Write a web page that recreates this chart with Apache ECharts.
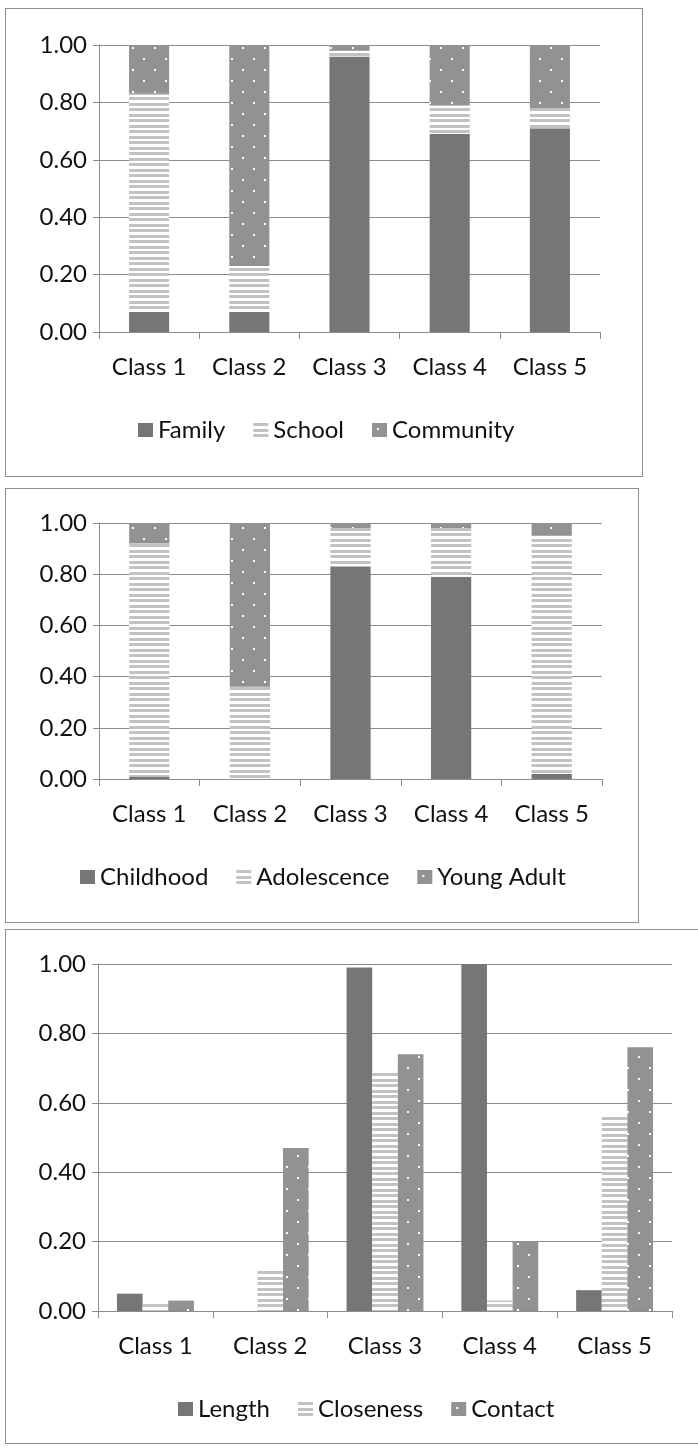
<!DOCTYPE html>
<html>
<head>
<meta charset="utf-8">
<script src="https://cdn.jsdelivr.net/npm/echarts@6/dist/echarts.min.js"></script>
<style>
  html, body { margin: 0; padding: 0; background: #fff; }
  body { width: 698px; height: 1450px; position: relative; overflow: hidden; }
  .frame { position: absolute; border: 1px solid #8f8f8f; background: #fff; }
  .frame > div { position: absolute; left: 0; top: 0; width: 100%; height: 100%; }
</style>
</head>
<body>
<div class="frame" style="left:5px;top:8px;width:636px;height:467px;"><div id="c1"></div></div>
<div class="frame" style="left:5px;top:488px;width:632px;height:433px;"><div id="c2"></div></div>
<div class="frame" style="left:5px;top:929px;width:720px;height:513px;"><div id="c3"></div></div>
<script>
// Shared categories and value-axis settings
const classes = ['Class 1', 'Class 2', 'Class 3', 'Class 4', 'Class 5'];
const yMin = 0, yMax = 1, yStep = 0.2;

// Setting: share of each class by context
const family    = [0.07, 0.07, 0.96, 0.69, 0.71];
const school    = [0.76, 0.16, 0.02, 0.10, 0.07];
const community = [0.17, 0.77, 0.02, 0.21, 0.22];

// Life stage: share of each class by period
const childhood   = [0.01, 0.00, 0.83, 0.79, 0.02];
const adolescence = [0.91, 0.36, 0.15, 0.19, 0.93];
const youngAdult  = [0.08, 0.64, 0.02, 0.02, 0.05];

// Relationship features by class
const lengthVals    = [0.05, 0.00, 0.99, 1.00, 0.06];
const closenessVals = [0.02, 0.12, 0.69, 0.03, 0.56];
const contactVals   = [0.03, 0.47, 0.74, 0.20, 0.76];

const FONT = 'Lato, "Open Sans", sans-serif';
const DARK = '#767676';

// Horizontal light-grey stripes on white
function stripeFill() {
  const c = document.createElement('canvas');
  c.width = 8; c.height = 11;
  const g = c.getContext('2d');
  g.fillStyle = '#ffffff'; g.fillRect(0, 0, 8, 11);
  g.fillStyle = '#c2c2c2';
  g.fillRect(0, 0, 8, 3);
  g.fillRect(0, 6, 8, 3);
  return { image: c, repeat: 'repeat' };
}
// Mid-grey with a diagonal lattice of small white dots
function dotFill() {
  const c = document.createElement('canvas');
  c.width = 22; c.height = 22;
  const g = c.getContext('2d');
  g.fillStyle = '#929292'; g.fillRect(0, 0, 22, 22);
  g.fillStyle = '#ffffff';
  g.fillRect(5, 5, 2, 2);
  g.fillRect(16, 16, 2, 2);
  return { image: c, repeat: 'repeat' };
}

const fills = [DARK, stripeFill(), dotFill()];

function baseOption(grid, legendPos, names) {
  return {
    animation: false,
    textStyle: { fontFamily: FONT },
    grid: Object.assign({ containLabel: false }, grid),
    legend: {
      data: names,
      left: legendPos.left,
      top: legendPos.top,
      icon: 'rect',
      itemWidth: 15,
      itemHeight: 14,
      itemGap: 28,
      selectedMode: false,
      textStyle: { fontFamily: FONT, fontSize: 24, color: '#111', lineHeight: 24 }
    },
    xAxis: {
      type: 'category',
      data: classes,
      axisLine: { lineStyle: { color: '#8c8c8c', width: 1 } },
      axisTick: { show: true, length: 7, lineStyle: { color: '#8c8c8c' } },
      axisLabel: { fontFamily: FONT, fontSize: 24, color: '#111', margin: 23, interval: 0 },
      splitLine: { show: false }
    },
    yAxis: {
      type: 'value',
      min: yMin, max: yMax, interval: yStep,
      axisLine: { show: true, lineStyle: { color: '#8c8c8c', width: 1 } },
      axisTick: { show: true, length: 6, lineStyle: { color: '#8c8c8c' } },
      axisLabel: { fontFamily: FONT, fontSize: 24, color: '#111', margin: 12,
                   formatter: v => v.toFixed(2) },
      splitLine: { show: true, lineStyle: { color: '#8c8c8c', width: 1 } }
    }
  };
}

function stacked(names, arrays) {
  return names.map((n, i) => ({
    name: n, type: 'bar', stack: 'total', data: arrays[i],
    barCategoryGap: '60%',
    itemStyle: { color: fills[i] },
    emphasis: { disabled: true }
  }));
}

// Chart 1
const n1 = ['Family', 'School', 'Community'];
const o1 = baseOption({ left: 93, top: 36, width: 501, height: 287 }, { left: 127, top: 404 }, n1);
o1.series = stacked(n1, [family, school, community]);
echarts.init(document.getElementById('c1')).setOption(o1);

// Chart 2
const n2 = ['Childhood', 'Adolescence', 'Young Adult'];
const o2 = baseOption({ left: 93, top: 34, width: 503, height: 256 }, { left: 69, top: 371 }, n2);
o2.series = stacked(n2, [childhood, adolescence, youngAdult]);
echarts.init(document.getElementById('c2')).setOption(o2);

// Chart 3
const n3 = ['Length', 'Closeness', 'Contact'];
const o3 = baseOption({ left: 92, top: 34, width: 574, height: 347 }, { left: 167, top: 462 }, n3);
o3.series = n3.map((n, i) => ({
  name: n, type: 'bar', data: [lengthVals, closenessVals, contactVals][i],
  barGap: '0%', barCategoryGap: '33%',
  itemStyle: { color: fills[i] },
  emphasis: { disabled: true }
}));
echarts.init(document.getElementById('c3')).setOption(o3);
</script>
</body>
</html>
